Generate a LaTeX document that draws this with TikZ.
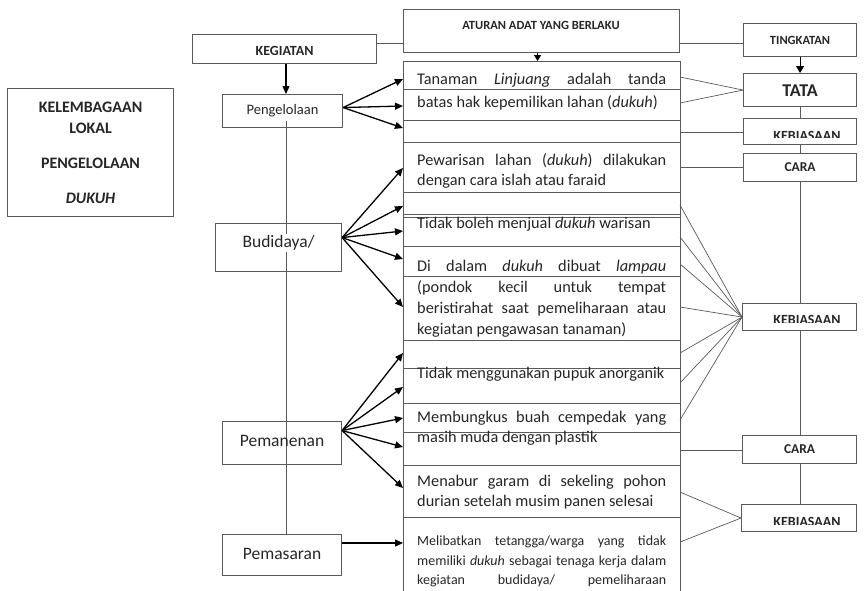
\documentclass[tikz,border=0pt]{standalone}
\usepackage{fontspec}
\setmainfont{Carlito}
\usetikzlibrary{arrows.meta}
\definecolor{ink}{HTML}{262626}
\definecolor{edge}{HTML}{5A5A5A}
\begin{document}
\begin{tikzpicture}[x=1pt,y=-1pt,
  every node/.style={text=ink, inner sep=0pt},
  box/.style={draw=edge, line width=1.1pt, anchor=north west},
  arr/.style={draw=black, line width=1.3pt, -{Triangle[length=8pt,width=7pt]}},
  tie/.style={draw=edge, line width=0.7pt},
  rule/.style={draw=edge, line width=1pt},
  hdr/.style={font=\bfseries\fontsize{12.5}{14}\selectfont},
  body/.style={font=\fontsize{16.3}{18}\selectfont, anchor=base west},
  small/.style={font=\fontsize{14}{16}\selectfont, anchor=base west},
  side/.style={font=\fontsize{17.5}{20}\selectfont},
]
\useasboundingbox (0,0) rectangle (864,590);

% ---------- title block ----------
\node[box, minimum width=166pt, minimum height=128pt, align=center,
      font=\bfseries\fontsize{16}{21}\selectfont] (lembaga) at (7,88)
  {KELEMBAGAAN\\LOKAL\\[14pt]PENGELOLAAN\\[14pt]\textit{DUKUH}};

% ---------- headers ----------
\node[box, minimum width=184pt, minimum height=29pt] (kegiatan) at (192,34) {};
\node[font=\bfseries\fontsize{14}{16}\selectfont] at ([yshift=-1.5pt]kegiatan.center) {KEGIATAN};
\node[box, minimum width=276pt, minimum height=43pt] (aturan) at (403,9) {};
\node[hdr] at (541,25) {ATURAN ADAT YANG BERLAKU};
\node[box, minimum width=113pt, minimum height=33pt] (tingkatan) at (743,23) {};
\node[font=\bfseries\fontsize{12.5}{14}\selectfont] at (tingkatan.center) {TINGKATAN};

\draw[tie] ([yshift=5.5pt]kegiatan.east) -- ([yshift=5.5pt]kegiatan.east -| aturan.west);
\draw[tie] ([yshift=-3.5pt]tingkatan.west) -- ([yshift=-3.5pt]tingkatan.west -| aturan.east);

% ---------- middle column of rules ----------
\node[box, minimum width=277pt, minimum height=545pt] (column) at (403,61) {};
\foreach \yy in {89,120,142,192,214,217,246,276,340,368,403,432,465,517}
  \draw[rule] (403,\yy) -- (680,\yy);
\draw[draw=black, line width=0.8pt, -{Triangle[length=6pt,width=7pt]}]
  ([xshift=-4pt]aturan.south) -- ([xshift=-4pt]aturan.south |- column.north);

\node[body] (t1) at (417,84) {\makebox[249pt][s]{Tanaman \textit{Linjuang} adalah tanda}};
\node[body] (t2) at (417,107) {batas hak kepemilikan lahan (\textit{dukuh})};
\node[body] (t3) at (417,165) {\makebox[249pt][s]{Pewarisan lahan (\textit{dukuh}) dilakukan}};
\node[body] (t4) at (417,185.5) {dengan cara islah atau faraid};
\node[body] (t5) at (417,228) {Tidak boleh menjual \textit{dukuh} warisan};
\node[body] (t6) at (417,271) {\makebox[249pt][s]{Di dalam \textit{dukuh} dibuat \textit{lampau}}};
\node[body] (t7) at (417,292.5) {\makebox[249pt][s]{(pondok kecil untuk tempat}};
\node[body] (t8) at (417,313.5) {\makebox[249pt][s]{beristirahat saat pemeliharaan atau}};
\node[body] (t9) at (417,334.5) {kegiatan pengawasan tanaman)};
\node[body] (t10) at (417,378) {Tidak menggunakan pupuk anorganik};
\node[body] (t11) at (417,422) {\makebox[249pt][s]{Membungkus buah cempedak yang}};
\node[body] (t12) at (417,442) {masih muda dengan plastik};
\node[body] (t13) at (417,486) {\makebox[249pt][s]{Menabur garam di sekeling pohon}};
\node[body] (t14) at (417,506.5) {durian setelah musim panen selesai};
\node[small] (t15) at (417,545.5) {\makebox[249pt][s]{Melibatkan tetangga/warga yang tidak}};
\node[small] (t16) at (417,565) {\makebox[249pt][s]{memiliki \textit{dukuh} sebagai tenaga kerja dalam}};
\node[small] (t17) at (417,584.5) {\makebox[249pt][s]{kegiatan budidaya/ pemeliharaan}};

% ---------- activities ----------
\coordinate (trunktop) at (286,121);
\node[box, minimum width=120pt, minimum height=33pt] (pengelolaan) at (222,94) {};
\node[font=\fontsize{14.5}{16}\selectfont] at (pengelolaan.center) {Pengelolaan};
\node[box, minimum width=126pt, minimum height=48pt] (budidaya) at (215,223) {};
\node[box, minimum width=119pt, minimum height=43pt] (pemanenan) at (222,421) {};
\node[box, minimum width=119pt, minimum height=41pt] (pemasaran) at (222,534) {};
\draw[rule] (trunktop) -- (trunktop |- pemasaran.north);
\node[side, fill=white, inner sep=1.5pt] at ([yshift=5pt]budidaya.center) {Budidaya/};
\node[side] at ([yshift=2pt]pemanenan.center) {Pemanenan};
\node[side] at ([yshift=1pt]pemasaran.center) {Pemasaran};

\draw[arr] (kegiatan.south -| trunktop) -- (pengelolaan.north -| trunktop);

% arrow ends on the column's left edge
\foreach \n/\yy in {a1/79,a2/106,a3/128,
                    b1/168,b2/206,b3/231,b4/259,b5/307,
                    c1/353,c2/387,c3/418,c4/447,c5/488,d1/543}
  \coordinate (\n) at (403,\yy);

\coordinate (srcA) at ([yshift=3.5pt]pengelolaan.east);
\coordinate (srcB) at ([yshift=10pt]budidaya.east);
\coordinate (srcC) at ([yshift=12.5pt]pemanenan.east);
\foreach \n in {a1,a2,a3} \draw[arr] (srcA) -- (\n);
\foreach \n in {b1,b2,b3,b4,b5} \draw[arr] (srcB) -- (\n);
\foreach \n in {c1,c2,c3,c4,c5} \draw[arr] (srcC) -- (\n);
\draw[arr] (pemasaran.east |- d1) -- (d1);

% ---------- levels ----------
\node[box, minimum width=113pt, minimum height=33pt] (tata) at (743,73) {};
\node[font=\bfseries\fontsize{18}{20}\selectfont] at ([yshift=-0.5pt]tata.center) {TATA};
\node[box, minimum width=113pt, minimum height=26pt] (keb1) at (743,118) {};
\node[box, minimum width=113pt, minimum height=28pt] (cara1) at (743,153) {};
\node[font=\bfseries\fontsize{13.5}{15}\selectfont] at (cara1.center) {CARA};
\node[box, minimum width=114pt, minimum height=27pt] (keb2) at (742,303) {};
\node[box, minimum width=114pt, minimum height=28pt] (cara2) at (742,435) {};
\node[font=\bfseries\fontsize{13.5}{15}\selectfont] at (cara2.center) {CARA};
\node[box, minimum width=115pt, minimum height=27pt] (keb3) at (741,504) {};

% KEBIASAAN labels, cut off along their lower edge
\tikzset{kebtext/.style={font=\bfseries\fontsize{14}{16}\selectfont, anchor=base}}
\begin{scope}
  \clip (keb1.north west) rectangle (856,137.5);
  \node[kebtext] at (807,140) {KEBIASAAN};
\end{scope}
\begin{scope}
  \clip (keb2.north west) rectangle (856,322);
  \node[kebtext] at (807,324.5) {KEBIASAAN};
\end{scope}
\begin{scope}
  \clip (keb3.north west) rectangle (856,524);
  \node[kebtext] at (807,526.5) {KEBIASAAN};
\end{scope}

\draw[draw=black, line width=0.9pt, -{Triangle[length=7pt,width=8pt]}] (tingkatan.south) -- (tata.north);
\draw[rule] (tata.south) -- (keb1.north);
\draw[rule] (keb1.south) -- (cara1.north);
\draw[rule] (cara1.south) -- (cara1.south |- keb2.north);
\draw[rule] (cara1.south |- keb2.south) -- (cara1.south |- cara2.north);
\draw[rule] (cara1.south |- cara2.south) -- (cara1.south |- keb3.north);

% ties from the column's right edge
\foreach \n/\yy in {r1/77,r2/103,r3/132,r4/167,
                    s1/205,s2/237,s3/264,s4/307,s5/353,s6/383,s7/420,
                    r5/450,u1/492,u2/542}
  \coordinate (\n) at (680,\yy);
\foreach \n in {r1,r2} \draw[tie] (\n) -- (tata.west);
\draw[tie] (r3) -- (r3 -| keb1.west);
\draw[tie] (r4) -- (r4 -| cara1.west);
\foreach \n in {s1,s2,s3,s4,s5,s6,s7} \draw[tie] (\n) -- (keb2.west);
\draw[tie] (r5) -- (r5 -| cara2.west);
\foreach \n in {u1,u2} \draw[tie] (\n) -- (keb3.west);
\end{tikzpicture}
\end{document}
